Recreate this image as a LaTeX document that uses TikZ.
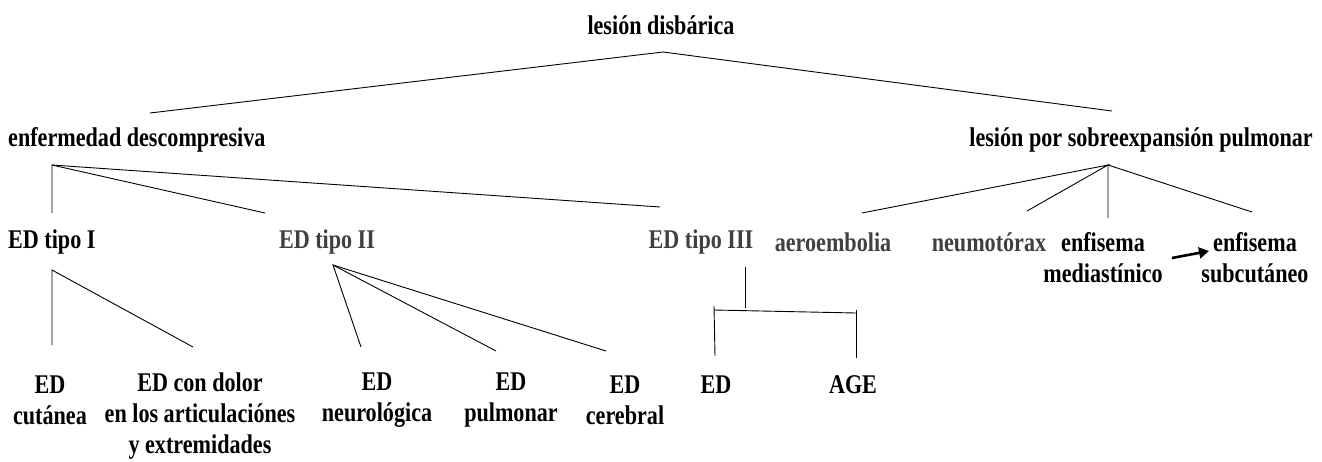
\documentclass[tikz,border=0pt]{standalone}
\usepackage{fontspec}
\setmainfont{Liberation Serif}[FakeStretch=0.82]
\usetikzlibrary{arrows.meta}
\definecolor{greytext}{HTML}{404040}
\begin{document}
\begin{tikzpicture}[x=1pt,y=-1pt,
  lbl/.style={inner sep=0pt,align=center,font=\fontsize{27}{31}\selectfont\bfseries},
  glbl/.style={lbl,text=greytext},
  conn/.style={line width=0.9pt,black},
  thickarrow/.style={line width=2.6pt,-{Triangle[length=10pt,width=11pt]}}]
\useasboundingbox (0,0) rectangle (1322,461);
% nodes
\node[lbl] (root) at (661,25) {lesión disbárica};
\node[lbl,anchor=west] (ed) at (8,140) {enfermedad descompresiva};
\node[lbl,anchor=east] (lsp) at (1313,140) {lesión por sobreexpansión pulmonar};
\node[lbl,anchor=west] (t1) at (8,242) {ED tipo I};
\node[glbl] (t2) at (327,242) {ED tipo II};
\node[glbl] (t3) at (701,242) {ED tipo III};
\node[glbl] (aero) at (833,242) {aeroembolia};
\node[glbl] (neumo) at (989,242) {neumotórax};
\node[lbl] (emed) at (1103,258) {enfisema\\mediastínico};
\node[lbl] (esub) at (1255,258) {enfisema\\subcutáneo};
\node[lbl] (cut) at (50,400) {ED\\cutánea};
\node[lbl] (dolor) at (200,416) {ED con dolor\\en los articulaciónes\\y extremidades};
\node[lbl] (neuro) at (377,400) {ED\\neurológica};
\node[lbl] (pulm) at (511,400) {ED\\pulmonar};
\node[lbl] (cereb) at (625,400) {ED\\cerebral};
\node[lbl] (edx) at (716,385) {ED};
\node[lbl] (age) at (853,385) {AGE};
% connector points
\coordinate (rootp) at (663,52);
\coordinate (edtop) at (150,113);
\coordinate (lsptop) at (1112,111);
\coordinate (edp) at (52,165);
\coordinate (t1top) at (52,213);
\coordinate (t2top) at (265,213);
\coordinate (t3top) at (660,207);
\coordinate (lspp) at (1108,165);
\coordinate (aerotop) at (862,213);
\coordinate (neumotop) at (1027,211);
\coordinate (emedtop) at (1108,218);
\coordinate (esubtop) at (1252,212);
\coordinate (t1p) at (52,270);
\coordinate (cuttop) at (52,345);
\coordinate (dolortop) at (193,347);
\coordinate (t2p) at (333,265);
\coordinate (neurotop) at (361,347);
\coordinate (pulmtop) at (496,351);
\coordinate (cerebtop) at (606,351);
\coordinate (t3p) at (745,267);
\coordinate (t3q) at (745,308);
\coordinate (brl) at (714,310);
\coordinate (brltick) at (714,306);
\coordinate (brr) at (856,313);
\coordinate (brrtick) at (856,310);
\coordinate (edxtop) at (715,356);
\coordinate (agetop) at (856,358);
% connectors
\draw[conn] (edtop) -- (rootp) -- (lsptop);
\draw[conn] (t1top) -- (edp) -- (t2top);
\draw[conn] (edp) -- (t3top);
\draw[conn] (aerotop) -- (lspp) -- (neumotop);
\draw[conn] (emedtop) -- (lspp) -- (esubtop);
\draw[conn] (cuttop) -- (t1p) -- (dolortop);
\draw[conn] (neurotop) -- (t2p) -- (pulmtop);
\draw[conn] (t2p) -- (cerebtop);
\draw[conn] (t3p) -- (t3q);
\draw[conn] (brltick) -- (edxtop);
\draw[conn] (brl) -- (brr);
\draw[conn] (brrtick) -- (agetop);
\draw[thickarrow] (1172,258) -- (1209,251);
\end{tikzpicture}
\end{document}
